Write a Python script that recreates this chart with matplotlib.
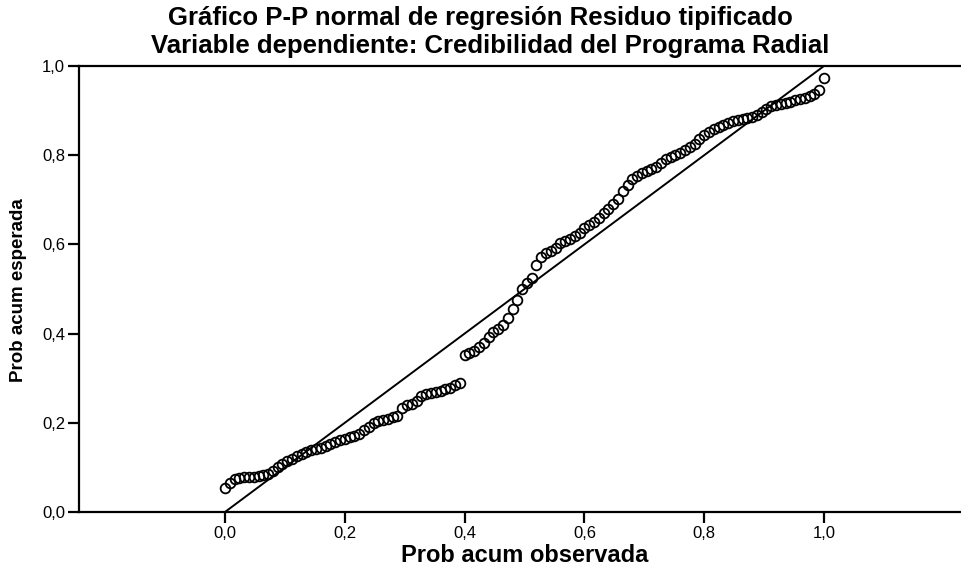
import numpy as np
import matplotlib
matplotlib.use("Agg")
import matplotlib.pyplot as plt

# observed cumulative probability (x) and expected cumulative probability (y)
obs_prob = [0.000, 0.008, 0.016, 0.024, 0.032, 0.040, 0.048, 0.056, 0.064, 0.072,
            0.080, 0.088, 0.096, 0.104, 0.112, 0.120, 0.128, 0.136, 0.144, 0.152,
            0.160, 0.168, 0.176, 0.184, 0.192, 0.200, 0.208, 0.216, 0.224, 0.232,
            0.240, 0.248, 0.256, 0.264, 0.272, 0.280, 0.288, 0.296, 0.304, 0.312,
            0.320, 0.328, 0.336, 0.344, 0.352, 0.360, 0.368, 0.376, 0.384, 0.392,
            0.400, 0.408, 0.416, 0.424, 0.432, 0.440, 0.448, 0.456, 0.464, 0.472,
            0.480, 0.488, 0.496, 0.504, 0.512, 0.520, 0.528, 0.536, 0.544, 0.552,
            0.560, 0.568, 0.576, 0.584, 0.592, 0.600, 0.608, 0.616, 0.624, 0.632,
            0.640, 0.648, 0.656, 0.664, 0.672, 0.680, 0.688, 0.696, 0.704, 0.712,
            0.720, 0.728, 0.736, 0.744, 0.752, 0.760, 0.768, 0.776, 0.784, 0.792,
            0.800, 0.808, 0.816, 0.824, 0.832, 0.840, 0.848, 0.856, 0.864, 0.872,
            0.880, 0.888, 0.896, 0.904, 0.912, 0.920, 0.928, 0.936, 0.944, 0.952,
            0.960, 0.968, 0.976, 0.984, 0.992, 1.000]
exp_prob = [0.054, 0.066, 0.074, 0.077, 0.078, 0.078, 0.079, 0.080, 0.082, 0.085,
            0.093, 0.101, 0.108, 0.114, 0.119, 0.125, 0.131, 0.135, 0.138, 0.141,
            0.144, 0.148, 0.153, 0.157, 0.161, 0.164, 0.168, 0.171, 0.176, 0.183,
            0.191, 0.199, 0.204, 0.207, 0.209, 0.212, 0.216, 0.234, 0.239, 0.243,
            0.250, 0.259, 0.264, 0.267, 0.270, 0.272, 0.275, 0.279, 0.285, 0.290,
            0.353, 0.356, 0.361, 0.370, 0.380, 0.393, 0.404, 0.411, 0.419, 0.434,
            0.456, 0.476, 0.499, 0.513, 0.525, 0.553, 0.571, 0.580, 0.585, 0.592,
            0.604, 0.608, 0.613, 0.619, 0.626, 0.636, 0.643, 0.651, 0.660, 0.670,
            0.680, 0.690, 0.702, 0.720, 0.733, 0.746, 0.754, 0.759, 0.764, 0.769,
            0.774, 0.783, 0.791, 0.796, 0.800, 0.805, 0.811, 0.818, 0.825, 0.836,
            0.846, 0.852, 0.858, 0.863, 0.868, 0.873, 0.877, 0.879, 0.881, 0.883,
            0.886, 0.891, 0.896, 0.904, 0.910, 0.912, 0.914, 0.917, 0.920, 0.923,
            0.926, 0.929, 0.932, 0.937, 0.946, 0.974]
ref_line = [0.0, 1.0]
x_ticks = [0.0, 0.2, 0.4, 0.6, 0.8, 1.0]
y_ticks = [0.0, 0.2, 0.4, 0.6, 0.8, 1.0]
tick_labels = ['0,0', '0,2', '0,4', '0,6', '0,8', '1,0']

plt.rcParams['font.family'] = ['Liberation Sans', 'DejaVu Sans']

W, H = 962, 568
fig = plt.figure(figsize=(W / 100, H / 100), dpi=100)
ax = fig.add_axes([79 / W, 56 / H, 883 / W, 446 / H])

ax.plot(ref_line, ref_line, color='black', lw=1.4)
ax.plot(obs_prob, exp_prob, 'o', mfc='none', mec='black', ms=7, mew=1.3)

ax.set_xlim(-0.2437, 1.2304)
ax.set_ylim(0, 1)
ax.set_xticks(x_ticks)
ax.set_xticklabels(tick_labels)
ax.set_yticks(y_ticks)
ax.set_yticklabels(tick_labels)
ax.tick_params(direction='out', length=8, width=1.6, labelsize=12, pad=2)
ax.spines['right'].set_visible(False)
for s in ['left', 'top', 'bottom']:
    ax.spines[s].set_linewidth(1.6)

fig.text(480 / W, 1 - 18 / H, 'Gráfico P-P normal de regresión Residuo tipificado',
         ha='center', va='center', fontsize=18.5, fontweight='bold')
fig.text(490 / W, 1 - 46 / H, 'Variable dependiente: Credibilidad del Programa Radial',
         ha='center', va='center', fontsize=18.5, fontweight='bold')
fig.text(525 / W, 1 - 556 / H, 'Prob acum observada',
         ha='center', va='center', fontsize=17, fontweight='bold')
fig.text(19 / W, 1 - 290 / H, 'Prob acum esperada', rotation=90,
         ha='center', va='center', fontsize=13.5, fontweight='bold')

fig.savefig('out.png', dpi=100)
